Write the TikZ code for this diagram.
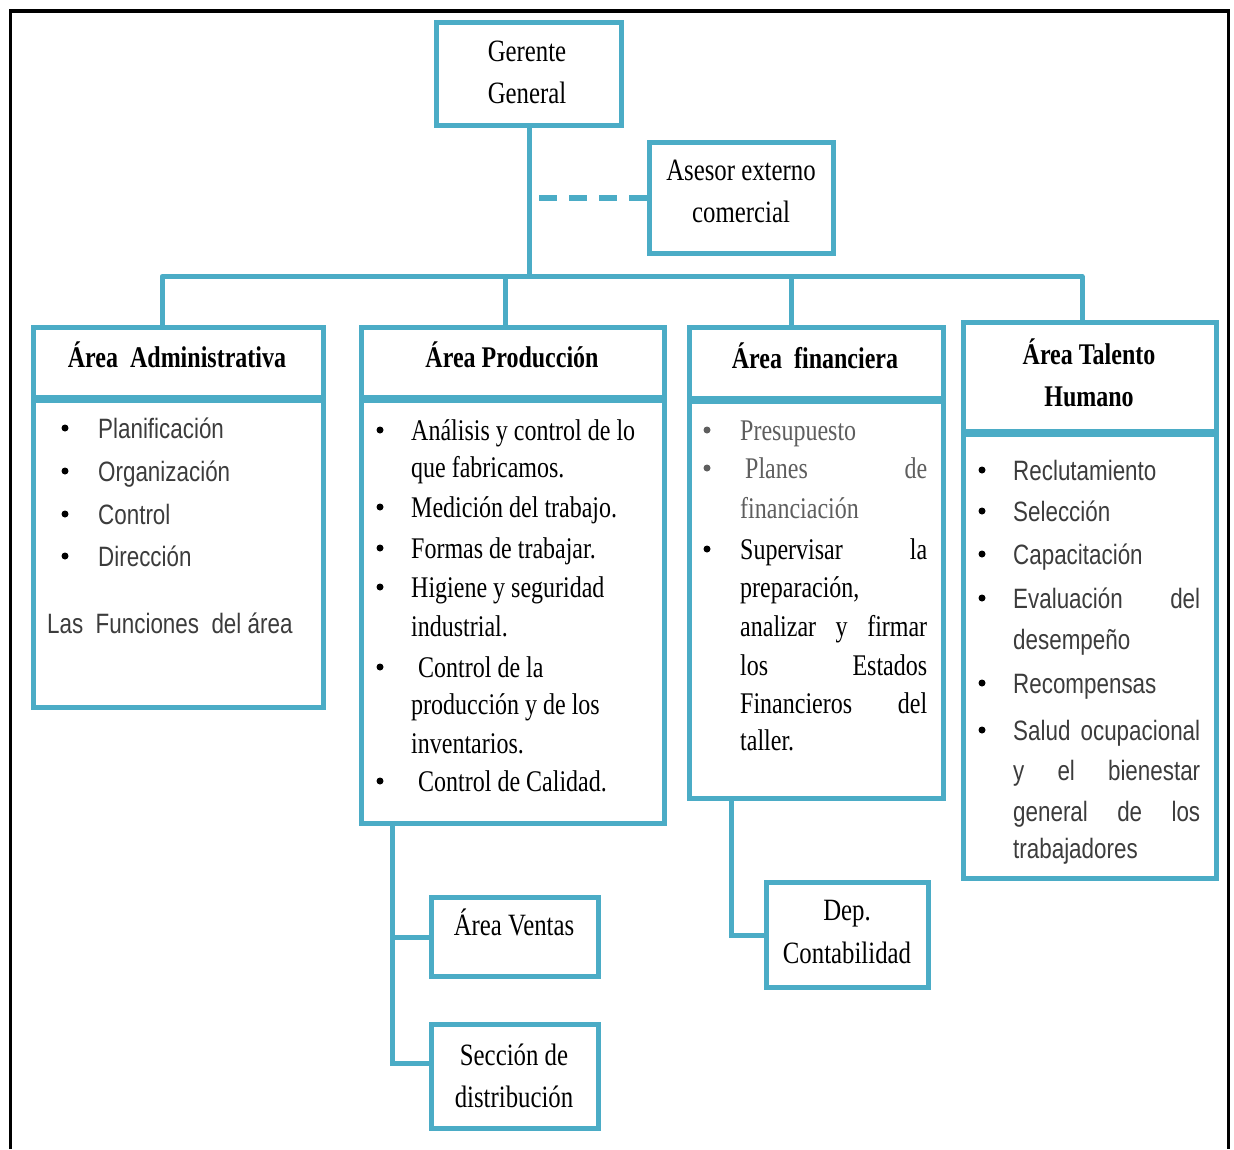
\documentclass[tikz,border=0pt]{standalone}
\usepackage{fontspec}
\setmainfont[FakeStretch=0.8]{Liberation Serif}
\newfontfamily\arialf[FakeStretch=0.8]{Liberation Sans}
\definecolor{acc}{HTML}{4BACC6}
\definecolor{sgray}{HTML}{3C3C3C}
\definecolor{pgray}{HTML}{5E5E5E}
\newcommand\mkbox[5]{%
  \pgfmathsetmacro\bxc{(#2+#4)/2}\pgfmathsetmacro\byc{(#3+#5)/2}%
  \pgfmathsetmacro\bxw{#4-#2}\pgfmathsetmacro\byh{#5-#3}%
  \node[boxst, minimum width=\bxw pt, minimum height=\byh pt] (#1) at (\bxc,\byc) {};}
\tikzset{
  boxst/.style={draw=acc, line width=5pt, inner sep=0pt, outer sep=0pt},
  conn/.style={draw=acc, line width=5pt},
  dashconn/.style={draw=acc, line width=5.5pt, dash pattern=on 18pt off 12pt},
  ttl/.style={anchor=base, inner sep=0pt, font=\fontsize{31}{37}\selectfont},
  hd/.style={anchor=base, inner sep=0pt, font=\fontsize{30}{36}\selectfont\bfseries},
  sr/.style={anchor=base west, inner sep=0pt, font=\fontsize{30}{36}\selectfont},
  sn/.style={anchor=base west, inner sep=0pt, font=\arialf\fontsize{28}{34}\selectfont, text=sgray},
  bul/.style={circle, fill=black, draw=none, minimum size=7pt, inner sep=0pt},
}
\begin{document}
\begin{tikzpicture}[x=1pt,y=-1pt]
\useasboundingbox (0,0) rectangle (1234,1149);
% outer frame
\draw[black, line width=3.8pt] (10.5,1149) -- (10.5,11) -- (1228.5,11) -- (1228.5,1149);

% boxes
\mkbox{gg}{436.5}{22.5}{621.5}{125.5}
\mkbox{ase}{649.5}{142.5}{833.5}{253.5}
\mkbox{adH}{33.5}{327.5}{323.5}{397}
\mkbox{adB}{33.5}{400}{323.5}{707.5}
\mkbox{prH}{361.5}{327.5}{664.5}{397}
\mkbox{prB}{361.5}{400}{664.5}{823.5}
\mkbox{fiH}{689.5}{327.5}{943.5}{398}
\mkbox{fiB}{689.5}{401}{943.5}{798.5}
\mkbox{taH}{963.5}{322.5}{1216.5}{431}
\mkbox{taB}{963.5}{434}{1216.5}{878.5}
\mkbox{ve}{431.5}{897.5}{598.5}{976.5}
\mkbox{se}{431.5}{1024.5}{598.5}{1128.5}
\mkbox{de}{766.5}{882.5}{928.5}{987.5}

% connectors
\coordinate (busL) at (162,276.5);
\coordinate (busP) at (505,276.5);
\coordinate (busF) at (791,276.5);
\coordinate (busR) at (1082,276.5);
\draw[conn] (gg.south) -- (gg.south |- busL);
\draw[conn, line join=round] (busL |- adH.north) -- (busL) -- (busR) -- (busR |- taH.north);
\draw[conn] (busP) -- (busP |- prH.north);
\draw[conn] (busF) -- (busF |- fiH.north);
\coordinate (dsh) at (539,198);
\draw[dashconn] (dsh) -- (dsh -| ase.west);
\coordinate (pv) at (392,0);
\coordinate (pvS) at (392,1063);
\draw[conn] (pv |- prB.south) -- (pvS) -- (pvS -| se.west);
\draw[conn] (pv |- ve.west) -- (ve.west);
\coordinate (fv) at (731,0);
\draw[conn] (fv |- fiB.south) -- (fv |- de.west) -- (de.west);

% top boxes text
\node[ttl] (g1) at (527,61) {Gerente};
\node[ttl] (g2) at (527,103) {General};
\node[ttl] (s1) at (741,180) {Asesor externo};
\node[ttl] (s2) at (741,222) {comercial};

% Area Administrativa
\node[hd] (adT) at (177,367) {Área\ \ Administrativa};
\node[bul] (ab1) at (65,428) {};
\node[bul] (ab2) at (65,471) {};
\node[bul] (ab3) at (65,514) {};
\node[bul] (ab4) at (65,556) {};
\node[sn] (a1) at (98,438) {Planificación};
\node[sn] (a2) at (98,481) {Organización};
\node[sn] (a3) at (98,524) {Control};
\node[sn] (a4) at (98,566) {Dirección};
\node[sn] (a5) at (47,633) {Las\ \ Funciones\ \ del área};

% Area Produccion
\node[hd] (prT) at (512,367) {Área Producción};
\node[bul] (pb1) at (380,430) {};
\node[bul] (pb2) at (380,507) {};
\node[bul] (pb3) at (380,548) {};
\node[bul] (pb4) at (380,587) {};
\node[bul] (pb5) at (380,667) {};
\node[bul] (pb6) at (380,781) {};
\node[sr] (p1) at (411,440) {Análisis y control de lo};
\node[sr] (p2) at (411,477) {que fabricamos.};
\node[sr] (p3) at (411,517) {Medición del trabajo.};
\node[sr] (p4) at (411,558) {Formas de trabajar.};
\node[sr] (p5) at (411,597) {Higiene y seguridad};
\node[sr] (p6) at (411,636) {industrial.};
\node[sr] (p7) at (418,677) {Control de la};
\node[sr] (p8) at (411,714) {producción y de los};
\node[sr] (p9) at (411,753) {inventarios.};
\node[sr] (p10) at (418,791) {Control de Calidad.};

% Area financiera
\node[hd] (fiT) at (815,368) {Área\ \ financiera};
\node[bul, fill=pgray] (fb1) at (707,430) {};
\node[bul, fill=pgray] (fb2) at (707,468) {};
\node[bul] (fb3) at (707,549) {};
\node[sr, text=pgray] (f1) at (740,440) {Presupuesto};
\node[sr, text=pgray] (f2) at (740,478) {\makebox[187pt][s]{\hspace{5pt}Planes de}};
\node[sr, text=pgray] (f3) at (740,518) {financiación};
\node[sr] (f4) at (740,559) {\makebox[187pt][s]{Supervisar la}};
\node[sr] (f5) at (740,597) {preparación,};
\node[sr] (f6) at (740,636) {\makebox[187pt][s]{analizar y firmar}};
\node[sr] (f7) at (740,675) {\makebox[187pt][s]{los Estados}};
\node[sr] (f8) at (740,713) {\makebox[187pt][s]{Financieros del}};
\node[sr] (f9) at (740,750) {taller.};

% Area Talento Humano
\node[hd] (taT1) at (1089,364) {Área Talento};
\node[hd] (taT2) at (1089,406) {Humano};
\node[bul] (hb1) at (982,470) {};
\node[bul] (hb2) at (982,511) {};
\node[bul] (hb3) at (982,554) {};
\node[bul] (hb4) at (982,598) {};
\node[bul] (hb5) at (982,683) {};
\node[bul] (hb6) at (982,730) {};
\node[sn] (h1) at (1013,480) {Reclutamiento};
\node[sn] (h2) at (1013,521) {Selección};
\node[sn] (h3) at (1013,564) {Capacitación};
\node[sn] (h4) at (1013,608) {\makebox[187pt][s]{Evaluación del}};
\node[sn] (h5) at (1013,649) {desempeño};
\node[sn] (h6) at (1013,693) {Recompensas};
\node[sn] (h7) at (1013,740) {\makebox[187pt][s]{Salud ocupacional}};
\node[sn] (h8) at (1013,780) {\makebox[187pt][s]{y el bienestar}};
\node[sn] (h9) at (1013,821) {\makebox[187pt][s]{general de los}};
\node[sn] (h10) at (1013,858) {trabajadores};

% sub boxes
\node[ttl] (v1) at (514,935) {Área Ventas};
\node[ttl] (c1) at (514,1065) {Sección de};
\node[ttl] (c2) at (514,1107) {distribución};
\node[ttl] (d1) at (847,920) {Dep.};
\node[ttl] (d2) at (847,963) {Contabilidad};
\end{tikzpicture}
\end{document}
